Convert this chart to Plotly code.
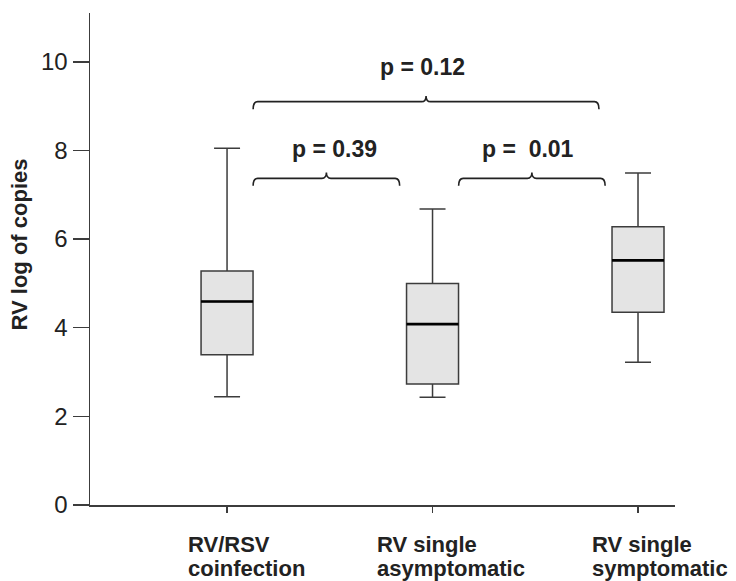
import plotly.graph_objects as go

# ---- data ----
cat_line1 = ["RV/RSV", "RV single", "RV single"]
cat_line2 = ["coinfection", "asymptomatic", "symptomatic"]
lower_whisker = [2.44, 2.43, 3.22]
q1_vals = [3.39, 2.73, 4.35]
median_vals = [4.59, 4.08, 5.52]
q3_vals = [5.28, 5.00, 6.28]
upper_whisker = [8.05, 6.68, 7.49]

y_ticks = [0, 2, 4, 6, 8, 10]

# comparisons: (left group, right group, p-value label)
comp_pairs = [(0, 1), (1, 2), (0, 2)]
comp_labels = ["p = 0.39", "p = \u00a00.01", "p = 0.12"]
comp_levels = [7.37, 7.37, 9.10]

# ---- figure ----
BOX_W = 0.253
LINE = "#3c3c3c"
FONT = "Liberation Sans, Arial, sans-serif"

fig = go.Figure()
for i in range(len(cat_line1)):
    fig.add_trace(go.Box(
        x=[i], q1=[q1_vals[i]], median=[median_vals[i]], q3=[q3_vals[i]],
        lowerfence=[lower_whisker[i]], upperfence=[upper_whisker[i]],
        width=BOX_W, whiskerwidth=0.5,
        fillcolor="#e4e4e4", line=dict(color=LINE, width=1.5),
        boxpoints=False, showlegend=False, hoverinfo="skip",
    ))
    # thicker black median line
    fig.add_trace(go.Scatter(
        x=[i - BOX_W / 2, i + BOX_W / 2], y=[median_vals[i], median_vals[i]],
        mode="lines", line=dict(color="#000000", width=2.6),
        showlegend=False, hoverinfo="skip",
    ))

# brackets (curly-brace style) between groups
label_dx = [0.037, -0.02, -0.016]
label_dy = [0.66, 0.66, 0.78]
for k, ((a, b), lab, lev) in enumerate(zip(comp_pairs, comp_labels, comp_levels)):
    x0 = a + 0.127
    x1 = b - (0.19 if b - a == 2 else 0.16)
    xm = (x0 + x1) / 2
    h = 0.17
    pk = 0.13
    dx = 0.022
    path = (f"M {x0},{lev - h} Q {x0},{lev} {x0 + dx},{lev} "
            f"L {xm - dx},{lev} Q {xm},{lev} {xm},{lev + pk} "
            f"Q {xm},{lev} {xm + dx},{lev} "
            f"L {x1 - dx},{lev} Q {x1},{lev} {x1},{lev - h}")
    fig.add_shape(type="path", path=path, xref="x", yref="y",
                  line=dict(color="#222222", width=1.6))
    fig.add_annotation(x=xm + label_dx[k], y=lev + label_dy[k], xref="x", yref="y",
                       xanchor="center", yanchor="middle",
                       text=f"<b>{lab}</b>", showarrow=False,
                       font=dict(family=FONT, size=23, color="#222222"))

# category labels (left aligned under ticks), two lines each
label_offsets = [-0.202, -0.282, -0.232]
for i, (l1, l2, off) in enumerate(zip(cat_line1, cat_line2, label_offsets)):
    for txt, yy in ((l1, -0.0515), (l2, -0.1005)):
        fig.add_annotation(x=i + off, y=yy, xref="x", yref="paper",
                           xanchor="left", yanchor="top", align="left",
                           text=f"<b>{txt}</b>", showarrow=False,
                           font=dict(family=FONT, size=22, color="#222222"))

# y-axis title
fig.add_annotation(x=-0.121, y=0.53, xref="paper", yref="paper",
                   xanchor="center", yanchor="middle",
                   text="<b>RV log of copies</b>", textangle=-90,
                   showarrow=False,
                   font=dict(family=FONT, size=22, color="#222222"))

fig.update_layout(
    width=736, height=581,
    margin=dict(l=90, r=61, t=13, b=76, autoexpand=False),
    paper_bgcolor="white", plot_bgcolor="white",
    boxmode="overlay",
    xaxis=dict(range=[-0.667, 2.18], tickvals=[0, 1, 2], showticklabels=False,
               ticks="outside", ticklen=6, tickwidth=1.5, tickcolor=LINE,
               showline=True, linecolor=LINE, linewidth=1.5,
               showgrid=False, zeroline=False, fixedrange=True),
    yaxis=dict(range=[0, 11.1], tickvals=y_ticks, ticks="outside",
               ticklen=16, tickwidth=1.5, tickcolor=LINE,
               showline=True, linecolor=LINE, linewidth=1.5,
               showgrid=False, zeroline=False,
               tickfont=dict(family=FONT, size=24, color="#222222")),
)

fig.write_html("out.html", config={"displayModeBar": False, "staticPlot": True})

# remove the default page margin so the figure sits at the top-left corner
with open("out.html", "r", encoding="utf-8") as f:
    html = f.read()
html = html.replace("<head>", "<head><style>html,body{margin:0;padding:0;overflow:hidden;}</style>", 1)
with open("out.html", "w", encoding="utf-8") as f:
    f.write(html)
